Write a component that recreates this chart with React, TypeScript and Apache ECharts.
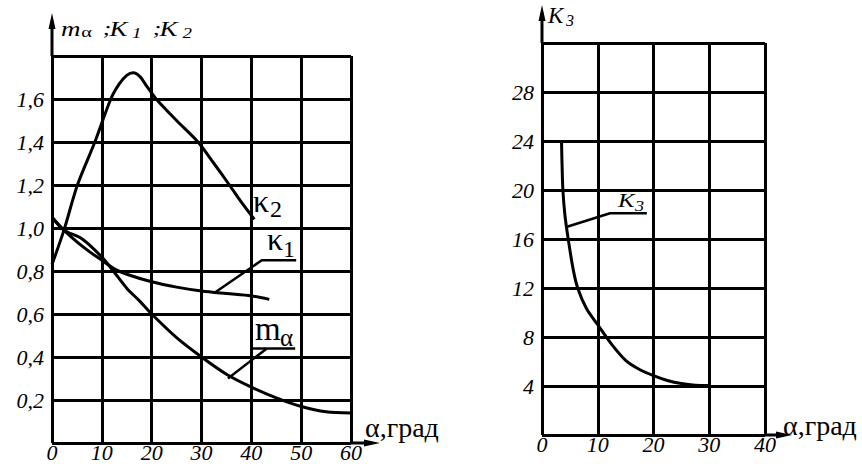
import { useEffect, useRef } from "react";
import * as echarts from "echarts";

// ---------- Left chart (m_alpha, K1, K2 vs alpha) ----------
const leftXMin = 0;
const leftXMax = 60;
const leftXStep = 10;
const leftYMin = 0;
const leftYMax = 1.8;
const leftYStep = 0.2;

const k2Values: number[][] = [
  [0, 0.83], [2.4, 0.99], [5.1, 1.2], [8.6, 1.4], [11.8, 1.6], [13.5, 1.67],
  [15, 1.71], [16.3, 1.722], [17.6, 1.705], [19, 1.66], [20.9, 1.6], [25, 1.5],
  [29.3, 1.4], [32.5, 1.3], [35.6, 1.2], [38, 1.12], [40.6, 1.04],
];
const k1Values: number[][] = [
  [0, 1.05], [2.4, 0.99], [5, 0.935], [7.5, 0.89], [10, 0.85], [12.5, 0.81],
  [15, 0.785], [20, 0.75], [25, 0.725], [30, 0.707], [35, 0.695], [40, 0.684], [43.6, 0.668],
];
const mAlphaValues: number[][] = [
  [0, 1.05], [2.4, 0.99], [6, 0.95], [10, 0.865], [12.3, 0.8], [15, 0.72],
  [17.6, 0.66], [20, 0.6], [25, 0.49], [30, 0.4], [35, 0.32], [40, 0.26],
  [45, 0.21], [50, 0.17], [55, 0.145], [60, 0.14],
];
const k1Leader: number[][] = [[32.7, 0.7], [42.1, 0.85], [49, 0.85]];
const mAlphaLeader: number[][] = [[35.3, 0.3], [43.1, 0.44]];
const mAlphaUnderline: number[][] = [[40.3, 0.44], [48.8, 0.44]];
const k2LabelAt = [40.34, 1.126];
const k1LabelAt = [43.15, 0.95];
const mAlphaLabelAt = [40.74, 0.529];

// ---------- Right chart (K3 vs alpha) ----------
const rightXMin = 0;
const rightXMax = 40;
const rightXStep = 10;
const rightYMin = 0;
const rightYMax = 32;
const rightYStep = 4;

const k3Values: number[][] = [
  [3.5, 24], [3.6, 22], [3.75, 20], [4.1, 18], [4.7, 16], [5.6, 13.5], [6.4, 12],
  [8, 10.3], [10, 9], [12.5, 7.4], [15, 6.1], [17.5, 5.35], [20, 4.85],
  [22.5, 4.45], [25, 4.2], [27.5, 4.07], [30, 4.05],
];
const k3Leader: number[][] = [[4.5, 17.0], [12.2, 18.1], [18.8, 18.1]];
const k3LabelAt = [13.63, 19.1];

const SERIF = "Liberation Serif, DejaVu Serif, serif";

const fmtComma = (v: number) =>
  v <= 0 || v >= leftYMax - 1e-6 ? "" : "{t|" + v.toFixed(1).replace(".", ",") + "}";
const fmtRight = (v: number) => (v <= 0 || v >= rightYMax ? "" : "{t|" + String(v) + "}");
const fmtX = (v: number) => "{t|" + String(v) + "}";

const gridLine = { show: true, lineStyle: { color: "#000", width: 3, type: "solid" as const } };
const tickRich = {
  t: { fontFamily: SERIF, fontStyle: "italic", fontSize: 22, color: "#000" },
};

function curve(name: string, data: number[][], gi: number, width = 3, smooth: number | boolean = 0.3) {
  return {
    type: "line",
    name,
    data,
    xAxisIndex: gi,
    yAxisIndex: gi,
    symbol: "none",
    showSymbol: false,
    smooth,
    clip: false,
    silent: true,
    z: 5,
    lineStyle: { color: "#000", width },
  };
}

type Part = [number, number, string, number, boolean];

function textGroup(x: number, y: number, parts: Part[], scaleX = 1) {
  return {
    type: "group",
    x,
    y,
    scaleX,
    silent: true,
    children: parts.map(([dx, dy, text, size, italic]) => ({
      type: "text",
      x: dx,
      y: dy,
      silent: true,
      style: {
        text,
        font: (italic ? "italic " : "") + size + "px " + SERIF,
        lineHeight: Math.round(size * 0.75),
        fill: "#000",
        align: "left",
        verticalAlign: "middle",
      },
    })),
  };
}

function arrowX(x0: number, y: number, tip: number) {
  return [
    { type: "line", silent: true, shape: { x1: x0, y1: y, x2: tip - 8, y2: y }, style: { stroke: "#000", lineWidth: 3 } },
    { type: "polygon", silent: true, shape: { points: [[tip, y], [tip - 16, y - 3.5], [tip - 16, y + 3.5]] }, style: { fill: "#000" } },
  ];
}
function arrowY(x: number, y0: number, tip: number) {
  return [
    { type: "line", silent: true, shape: { x1: x, y1: y0, x2: x, y2: tip + 8 }, style: { stroke: "#000", lineWidth: 3 } },
    { type: "polygon", silent: true, shape: { points: [[x, tip], [x - 3.5, tip + 16], [x + 3.5, tip + 16]] }, style: { fill: "#000" } },
  ];
}

export default function App() {
  const ref = useRef<HTMLDivElement>(null);
  useEffect(() => {
    const el = ref.current;
    if (!el) return;
    const chart = echarts.init(el, null, { renderer: "svg" });
    const option: any = {
      animation: false,
      backgroundColor: "#fff",
      textStyle: { fontFamily: SERIF },
      grid: [
        { left: 52, top: 56, width: 299, height: 387 },
        { left: 542, top: 43, width: 223, height: 392 },
      ],
      xAxis: [
        {
          type: "value", gridIndex: 0, min: leftXMin, max: leftXMax, interval: leftXStep,
          axisLine: { show: false }, axisTick: { show: false }, splitLine: gridLine,
          axisLabel: { margin: -2, formatter: fmtX, rich: tickRich },
        },
        {
          type: "value", gridIndex: 1, min: rightXMin, max: rightXMax, interval: rightXStep,
          axisLine: { show: false }, axisTick: { show: false }, splitLine: gridLine,
          axisLabel: { margin: -2, formatter: fmtX, rich: tickRich },
        },
      ],
      yAxis: [
        {
          type: "value", gridIndex: 0, min: leftYMin, max: leftYMax, interval: leftYStep,
          axisLine: { show: false }, axisTick: { show: false }, splitLine: gridLine,
          axisLabel: { margin: 8, formatter: fmtComma, rich: tickRich },
        },
        {
          type: "value", gridIndex: 1, min: rightYMin, max: rightYMax, interval: rightYStep,
          axisLine: { show: false }, axisTick: { show: false }, splitLine: gridLine,
          axisLabel: { margin: 8, formatter: fmtRight, rich: tickRich },
        },
      ],
      series: [
        curve("K2", k2Values, 0),
        curve("K1", k1Values, 0),
        curve("mα", mAlphaValues, 0),
        curve("K1 leader", k1Leader, 0, 2.5, false),
        curve("mα leader", mAlphaLeader, 0, 2.5, false),
        curve("mα underline", mAlphaUnderline, 0, 2.5, false),
        curve("K3", k3Values, 1),
        curve("K3 leader", k3Leader, 1, 2.5, false),
      ],
    };
    chart.setOption(option);

    const px = (gi: number, p: number[]) => chart.convertToPixel({ gridIndex: gi } as any, p) as number[];
    const lo = px(0, [leftXMin, leftYMin]);
    const lTop = px(0, [leftXMin, leftYMax]);
    const lRight = px(0, [leftXMax, leftYMin]);
    const ro = px(1, [rightXMin, rightYMin]);
    const rTop = px(1, [rightXMin, rightYMax]);
    const rRight = px(1, [rightXMax, rightYMin]);
    const k2L = px(0, k2LabelAt);
    const k1L = px(0, k1LabelAt);
    const mL = px(0, mAlphaLabelAt);
    const k3L = px(1, k3LabelAt);

    const graphic: any[] = [
      ...arrowY(lo[0], lTop[1], lTop[1] - 43),
      ...arrowX(lRight[0], lo[1], lRight[0] + 29),
      ...arrowY(ro[0], rTop[1], rTop[1] - 38),
      ...arrowX(rRight[0], ro[1], rRight[0] + 27),
      textGroup(lTop[0] + 9, lTop[1] - 27, [
        [0, 0, "m", 20, true],
        [15, 3, "α", 15, false],
        [31, 0, ";", 19, true],
        [36, 0, "K", 20, true],
        [52.5, 4, "1", 14, true],
        [68, 0, ";", 19, true],
        [73, 0, "K", 20, true],
        [90, 4, "2", 14, true],
      ], 1.35),
      textGroup(rTop[0] + 6, rTop[1] - 28, [
        [0, 0, "K", 23, true],
        [18, 5, "3", 16, true],
      ]),
      textGroup(lRight[0] + 14, lo[1] - 16, [[0, 0, "α,град", 28, false]]),
      textGroup(rRight[0] + 18, ro[1] - 10, [[0, 0, "α,град", 28, false]]),
      textGroup(k2L[0], k2L[1], [
        [0, 0, "κ", 32, false],
        [17, 8, "2", 24, false],
      ]),
      textGroup(k1L[0], k1L[1], [
        [0, 0, "κ", 32, false],
        [16, 10, "1", 24, false],
      ]),
      textGroup(mL[0], mL[1], [
        [0, 0, "m", 33, false],
        [25, 8, "α", 25, false],
      ]),
      textGroup(k3L[0], k3L[1], [
        [0, 0, "K", 19, true],
        [13, 6, "3", 14, true],
      ], 1.3),
    ];
    chart.setOption({ graphic });
    return () => chart.dispose();
  }, []);
  return (
    <div
      ref={ref}
      style={{ position: "fixed", left: 0, top: 0, width: 862, height: 473, background: "#fff" }}
    />
  );
}
